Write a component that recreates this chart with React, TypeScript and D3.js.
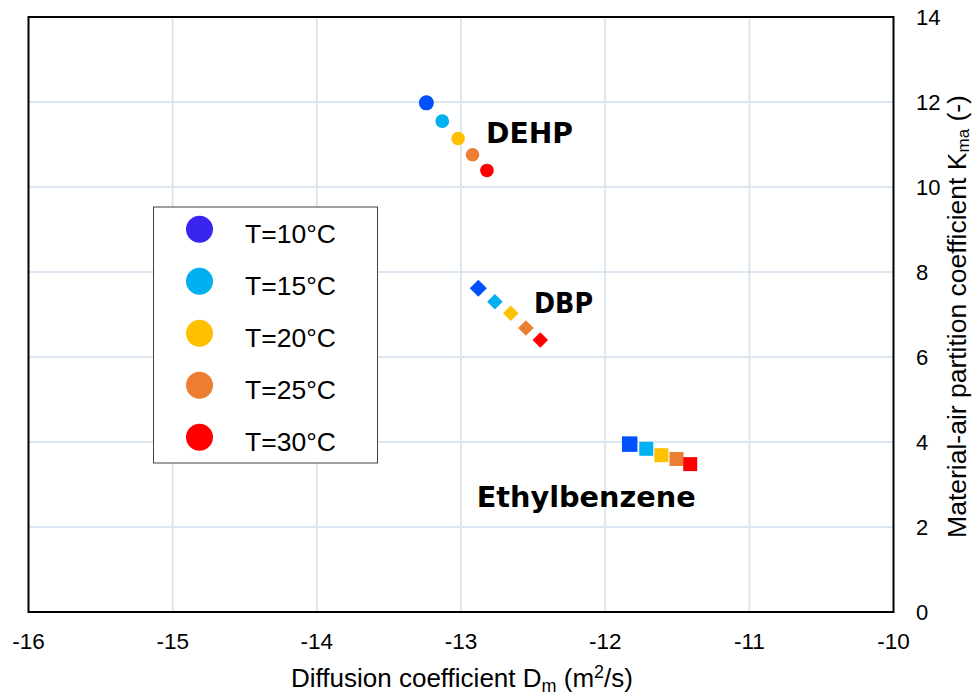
import React from "react";
import * as d3 from "d3";

const W = 974;
const H = 696;

const xTicks = [-16, -15, -14, -13, -12, -11, -10];
const yTicks = [0, 2, 4, 6, 8, 10, 12, 14];

const tempLabels = ["T=10°C", "T=15°C", "T=20°C", "T=25°C", "T=30°C"];
const markerColors = ["#0050FF", "#00B0F0", "#FFC000", "#ED7D31", "#FF0000"];
const legendColors = ["#3A24F0", "#00B0F0", "#FFC000", "#ED7D31", "#FF0000"];

const dehpX = [-13.24, -13.13, -13.02, -12.92, -12.82];
const dehpY = [11.98, 11.55, 11.14, 10.76, 10.39];

const dbpX = [-12.88, -12.765, -12.655, -12.55, -12.45];
const dbpY = [7.62, 7.30, 7.03, 6.68, 6.40];

const ethX = [-11.83, -11.715, -11.61, -11.505, -11.41];
const ethY = [3.95, 3.84, 3.69, 3.60, 3.48];

const compoundLabels = ["DEHP", "DBP", "Ethylbenzene"];

export default function App() {
  const left = 28.5, right = 893.5, top = 17, bottom = 612;
  const x = d3.scaleLinear().domain([-16, -10]).range([left, right]);
  const y = d3.scaleLinear().domain([0, 14]).range([bottom, top]);

  const font = "'Liberation Sans', Arial, sans-serif";
  const boldFont = "'DejaVu Sans', Verdana, sans-serif";

  const diamond = d3.symbol().type(d3.symbolSquare).size(120)();

  return (
    <div style={{ position: "absolute", left: 0, top: 0 }}>
      <svg width={W} height={H} style={{ display: "block", background: "#fff" }}>
        {/* grid */}
        {xTicks.slice(1, -1).map((t) => (
          <line key={"gx" + t} x1={x(t)} x2={x(t)} y1={top} y2={bottom} stroke="#DCE6F2" strokeWidth={2} />
        ))}
        {yTicks.slice(1, -1).map((t) => (
          <line key={"gy" + t} x1={left} x2={right} y1={y(t)} y2={y(t)} stroke="#DCE6F2" strokeWidth={2} />
        ))}
        {/* frame */}
        <rect x={left} y={top} width={right - left} height={bottom - top} fill="none" stroke="#000" strokeWidth={2} />

        {/* x tick labels */}
        {xTicks.map((t) => (
          <text key={"xt" + t} x={x(t)} y={649} textAnchor="middle" fontFamily={font} fontSize={22.5} fill="#000">
            {t}
          </text>
        ))}
        {/* y tick labels */}
        {yTicks.map((t) => (
          <text key={"yt" + t} x={916} y={y(t) + 8} textAnchor="start" fontFamily={font} fontSize={22} fill="#000">
            {t}
          </text>
        ))}

        {/* axis titles */}
        <text x={462} y={687} textAnchor="middle" fontFamily={font} fontSize={26} fill="#000">
          Diffusion coefficient D<tspan fontSize={18} dy={5}>m</tspan>
          <tspan dy={-5}> (m</tspan>
          <tspan fontSize={18} dy={-9}>2</tspan>
          <tspan dy={9}>/s)</tspan>
        </text>
        <text
          transform={`translate(965.5, 316.5) rotate(-90)`}
          textAnchor="middle"
          fontFamily={font}
          fontSize={26.5}
          fill="#000"
        >
          Material-air partition coefficient K<tspan fontSize={17} dy={3.5}>ma</tspan>
          <tspan dy={-3.5}> (-)</tspan>
        </text>

        {/* DEHP circles */}
        {dehpX.map((v, i) => (
          <circle key={"c" + i} cx={x(v)} cy={y(dehpY[i])} r={i === 0 ? 7.5 : 6.8} fill={markerColors[i]} />
        ))}
        {/* DBP diamonds */}
        {dbpX.map((v, i) => (
          <path
            key={"d" + i}
            d={diamond}
            transform={`translate(${x(v)},${y(dbpY[i])}) rotate(45) scale(${i === 0 ? 1.1 : 1})`}
            fill={markerColors[i]}
          />
        ))}
        {/* Ethylbenzene squares */}
        {ethX.map((v, i) => {
          const s = i === 0 ? 15.5 : 14;
          return (
            <rect key={"s" + i} x={x(v) - s / 2} y={y(ethY[i]) - s / 2} width={s} height={s} fill={markerColors[i]} />
          );
        })}

        {/* compound labels */}
        <text x={486} y={142.7} fontFamily={boldFont} fontWeight="bold" fontSize={28} fill="#000"
          textLength={87} lengthAdjust="spacingAndGlyphs">
          {compoundLabels[0]}
        </text>
        <text x={534} y={313.3} fontFamily={boldFont} fontWeight="bold" fontSize={28} fill="#000"
          textLength={59} lengthAdjust="spacingAndGlyphs">
          {compoundLabels[1]}
        </text>
        <text x={476.7} y={506.7} fontFamily={boldFont} fontWeight="bold" fontSize={28.5} fill="#000"
          textLength={219} lengthAdjust="spacingAndGlyphs">
          {compoundLabels[2]}
        </text>

        {/* legend */}
        <rect x={153.5} y={207} width={224} height={256} fill="#fff" stroke="#404040" strokeWidth={1} />
        {tempLabels.map((lab, i) => {
          const cy = 229.3 + i * 52;
          return (
            <g key={"lg" + i}>
              <circle cx={199.5} cy={cy} r={13.5} fill={legendColors[i]} />
              <text x={245} y={cy + 14} fontFamily={font} fontSize={26.5} fill="#000">
                {lab}
              </text>
            </g>
          );
        })}
      </svg>
    </div>
  );
}
